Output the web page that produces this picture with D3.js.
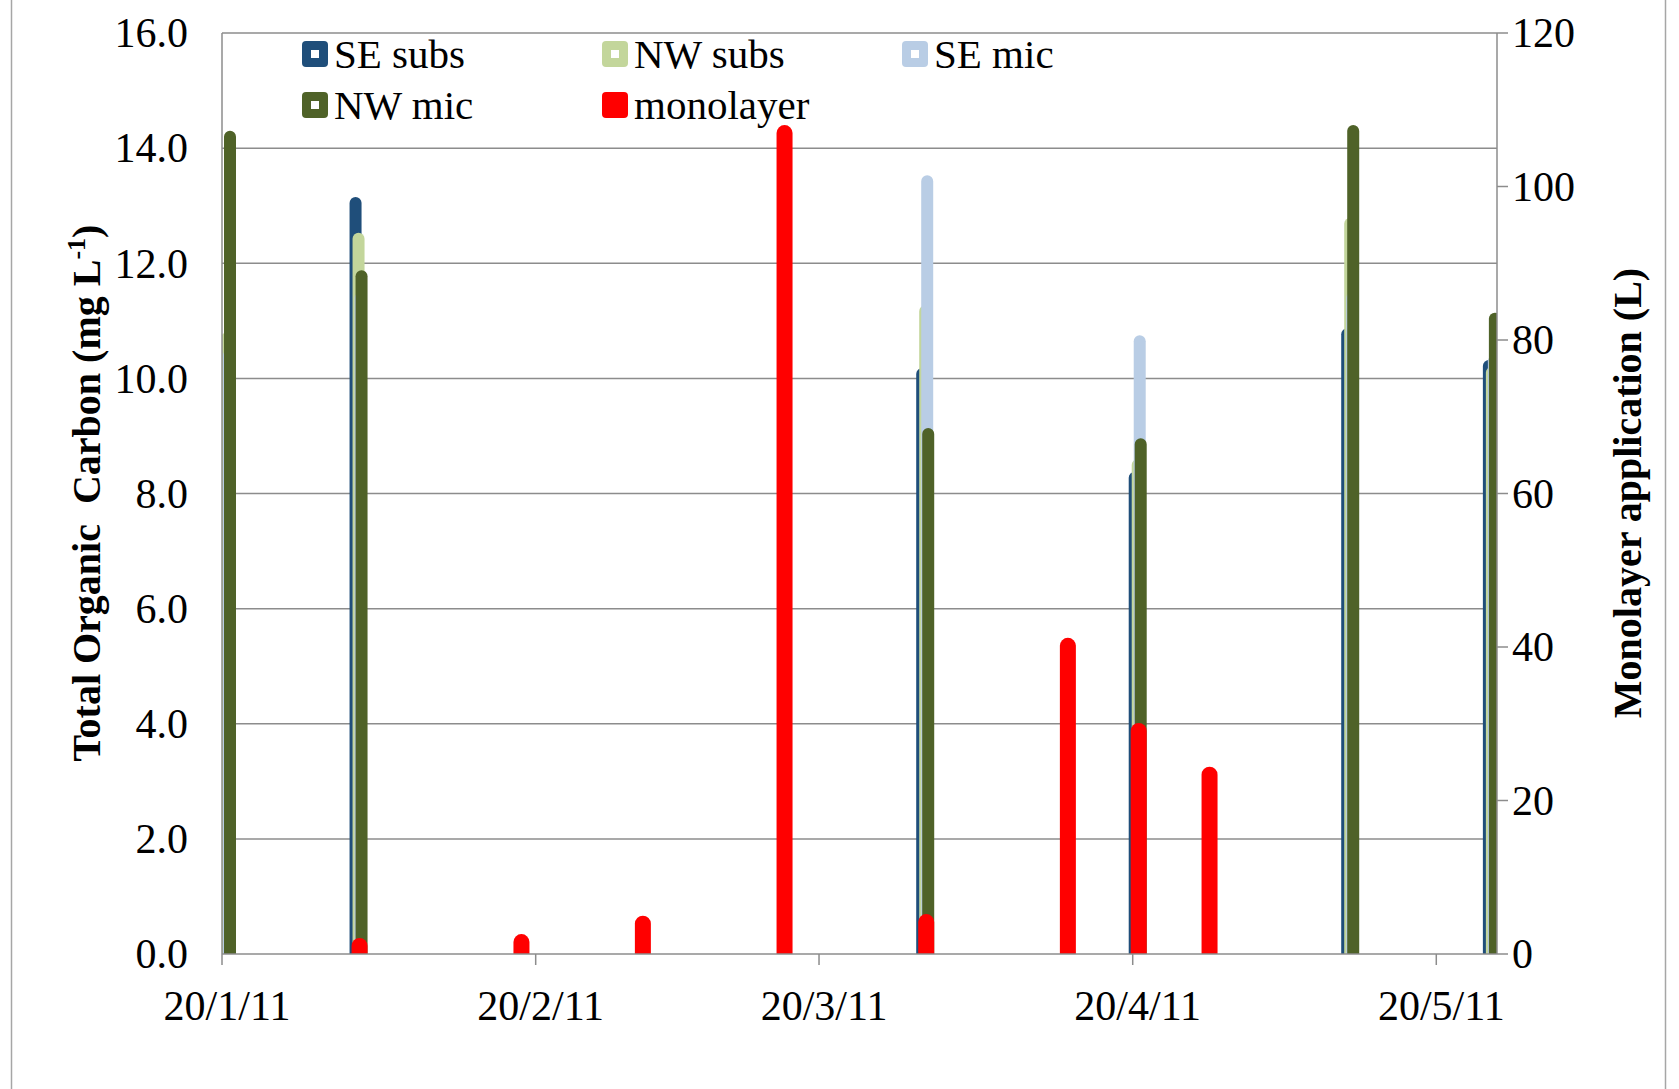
<!DOCTYPE html>
<html>
<head>
<meta charset="utf-8">
<script src="https://cdn.jsdelivr.net/npm/d3@7"></script>
<style>
  html, body { margin: 0; padding: 0; background: #fff; }
  svg { display: block; }
  text { font-family: "Liberation Serif", "Times New Roman", serif; fill: #000; }
</style>
</head>
<body>
<svg id="chart" width="1679" height="1089"></svg>
<script>
// ---------- data ----------
const sampleDates = ["20/1/11", "2/2/11", "30/3/11", "20/4/11", "11/5/11", "25/5/11"];
const seSubs = [10.0, 13.15, 10.18, 8.38, 10.87, 10.32];
const nwSubs = [10.8, 12.53, 11.27, 8.6, 12.79, 10.2];
const seMic  = [10.5, 11.5, 13.53, 10.75, 11.5, 10.4];
const nwMic  = [14.3, 11.88, 9.14, 8.96, 14.4, 11.14];

const monoDates  = ["2/2/11", "18/2/11", "2/3/11", "16/3/11", "30/3/11", "13/4/11", "20/4/11", "27/4/11"];
const monoValues = [2.1, 2.6, 5.0, 108, 5.2, 41.2, 30.1, 24.4];

const seriesNames  = ["SE subs", "NW subs", "SE mic", "NW mic"];
const seriesColors = ["#1f4e7a", "#c3d69b", "#b9cde5", "#4f6228"];
const monoName = "monolayer";
const monoColor = "#ff0000";

const leftTicks  = [0, 2, 4, 6, 8, 10, 12, 14, 16];
const rightTicks = [0, 20, 40, 60, 80, 100, 120];
const xTickDates = ["20/1/11", "20/2/11", "20/3/11", "20/4/11", "20/5/11"];
const xDomain = ["20/1/11", "26/5/11"];

// ---------- layout ----------
const parse = d3.timeParse("%d/%m/%y");
const svg = d3.select("#chart");
const L = 222, R = 1497, T = 33, B = 954;

// outer border
svg.append("rect").attr("x", 11.5).attr("y", -5).attr("width", 1654).attr("height", 1100)
  .attr("fill", "none").attr("stroke", "#a6a6a6").attr("stroke-width", 1.5);

const x = d3.scaleTime().domain(xDomain.map(parse)).range([L, R]);
const yL = d3.scaleLinear().domain([0, 16]).range([B, T]);
const yR = d3.scaleLinear().domain([0, 120]).range([B, T]);

// gridlines
svg.append("g").selectAll("line").data(leftTicks.slice(1)).join("line")
  .attr("x1", L).attr("x2", R).attr("y1", d => yL(d)).attr("y2", d => yL(d))
  .attr("stroke", "#8c8c8c").attr("stroke-width", 1.5);

// clip
svg.append("clipPath").attr("id", "plotclip").append("rect")
  .attr("x", L).attr("y", 0).attr("width", R - L).attr("height", B);

function barPath(x0, w, yTop, yBase) {
  const r = Math.min(w / 2, (yBase - yTop));
  return `M${x0},${yBase} L${x0},${yTop + r} A${r},${r} 0 0 1 ${x0 + r},${yTop} ` +
         `L${x0 + w - r},${yTop} A${r},${r} 0 0 1 ${x0 + w},${yTop + r} L${x0 + w},${yBase} Z`;
}

const barsG = svg.append("g").attr("clip-path", "url(#plotclip)");
const seriesData = [seSubs, nwSubs, seMic, nwMic];
const offsets = [-4, -1, 1, 2];
const barW = 12;
seriesData.forEach((vals, si) => {
  barsG.append("g").selectAll("path")
    .data(sampleDates.map((d, i) => ({ date: parse(d), v: vals[i] })))
    .join("path")
    .attr("d", d => barPath(x(d.date) + offsets[si], barW, yL(d.v), B))
    .attr("fill", seriesColors[si]);
});

// monolayer on secondary axis
barsG.append("g").selectAll("path")
  .data(monoDates.map((d, i) => ({ date: parse(d), v: monoValues[i] })))
  .join("path")
  .attr("d", d => barPath(x(d.date) - 2, 16, yR(d.v), B))
  .attr("fill", monoColor);

// axes lines
const axisColor = "#8c8c8c";
svg.append("line").attr("x1", L).attr("x2", L).attr("y1", T).attr("y2", B)
  .attr("stroke", axisColor).attr("stroke-width", 1.5);
svg.append("line").attr("x1", R).attr("x2", R).attr("y1", T).attr("y2", B)
  .attr("stroke", axisColor).attr("stroke-width", 1.5);
svg.append("line").attr("x1", L).attr("x2", R).attr("y1", B).attr("y2", B)
  .attr("stroke", axisColor).attr("stroke-width", 1.5);

// left tick labels
svg.append("g").selectAll("text").data(leftTicks).join("text")
  .attr("x", 188).attr("y", d => yL(d)).attr("dy", "0.34em")
  .attr("text-anchor", "end").attr("font-size", 42)
  .text(d => d3.format(".1f")(d));

// right ticks + labels
svg.append("g").selectAll("line").data(rightTicks).join("line")
  .attr("x1", R).attr("x2", R + 11).attr("y1", d => yR(d)).attr("y2", d => yR(d))
  .attr("stroke", axisColor).attr("stroke-width", 1.5);
svg.append("g").selectAll("text").data(rightTicks).join("text")
  .attr("x", 1512).attr("y", d => yR(d)).attr("dy", "0.34em")
  .attr("text-anchor", "start").attr("font-size", 42)
  .text(d => d);

// x ticks + labels
svg.append("g").selectAll("line").data(xTickDates).join("line")
  .attr("x1", d => x(parse(d))).attr("x2", d => x(parse(d)))
  .attr("y1", B).attr("y2", B + 11)
  .attr("stroke", axisColor).attr("stroke-width", 1.5);
svg.append("g").selectAll("text").data(xTickDates).join("text")
  .attr("x", d => x(parse(d)) + 5).attr("y", 1020)
  .attr("text-anchor", "middle").attr("font-size", 42)
  .text(d => d);

// axis titles
const lt = svg.append("text")
  .attr("transform", "translate(100,493) rotate(-90)")
  .attr("text-anchor", "middle").attr("font-size", 40).attr("font-weight", "bold")
  .style("white-space", "pre");
lt.append("tspan").text("Total Organic  Carbon (mg L");
lt.append("tspan").attr("font-size", 26).attr("dy", -15).text("-1");
lt.append("tspan").attr("dy", 15).text(")");

svg.append("text")
  .attr("transform", "translate(1641,493) rotate(-90)")
  .attr("text-anchor", "middle").attr("font-size", 40).attr("font-weight", "bold")
  .text("Monolayer application (L)");

// legend
const legendItems = [
  { name: seriesNames[0], color: seriesColors[0], x: 302, y: 54, inner: true },
  { name: seriesNames[1], color: seriesColors[1], x: 602, y: 54, inner: true },
  { name: seriesNames[2], color: seriesColors[2], x: 902, y: 54, inner: true },
  { name: seriesNames[3], color: seriesColors[3], x: 302, y: 105, inner: true },
  { name: monoName, color: monoColor, x: 602, y: 105, inner: false }
];
const lg = svg.append("g").selectAll("g").data(legendItems).join("g")
  .attr("transform", d => `translate(${d.x},${d.y})`);
lg.append("rect").attr("x", 0).attr("y", -13).attr("width", 26).attr("height", 26)
  .attr("rx", 4).attr("fill", d => d.color);
lg.filter(d => d.inner).append("rect").attr("x", 9).attr("y", -4).attr("width", 8).attr("height", 8)
  .attr("fill", "#fff");
lg.append("text").attr("x", 32).attr("y", 0).attr("dy", "0.34em")
  .attr("font-size", 41).text(d => d.name);
</script>
</body>
</html>
